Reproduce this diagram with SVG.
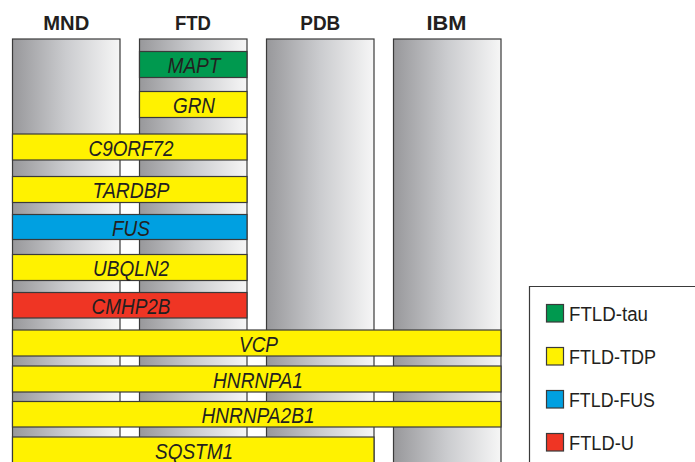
<svg xmlns="http://www.w3.org/2000/svg" width="695" height="462" viewBox="0 0 695 462">
<defs>
<linearGradient id="g" x1="0" y1="0" x2="1" y2="0">
<stop offset="0" stop-color="#98989b"/>
<stop offset="0.5" stop-color="#cbcccf"/>
<stop offset="1" stop-color="#f6f6f6"/>
</linearGradient>
</defs>
<style>
.col{fill:url(#g);stroke:#3a3a3a;stroke-width:1.2}
.bar{stroke:#3a3a3a;stroke-width:1.2}
.y{fill:#fff200}.gr{fill:#00994f}.bl{fill:#00a0e1}.rd{fill:#ef3524}
.hd{font-family:"Liberation Sans",Arial,sans-serif;font-weight:bold;font-size:21px;fill:#231f20;text-anchor:middle}
.bt{font-family:"Liberation Sans",Arial,sans-serif;font-style:italic;font-size:22px;fill:#231f20;text-anchor:middle}
.lg{font-family:"Liberation Sans",Arial,sans-serif;font-size:20px;fill:#231f20}
</style>
<rect width="695" height="462" fill="#ffffff"/>
<g id="columns">
<g id="col-MND"><rect class="col" x="12.5" y="39" width="107.5" height="430"/><text class="hd" x="66.3" y="30" textLength="46" lengthAdjust="spacingAndGlyphs">MND</text></g>
<g id="col-FTD"><rect class="col" x="139.5" y="39" width="107.5" height="430"/><text class="hd" x="193" y="30" textLength="36" lengthAdjust="spacingAndGlyphs">FTD</text></g>
<g id="col-PDB"><rect class="col" x="266.5" y="39" width="107.5" height="430"/><text class="hd" x="320.3" y="30" textLength="40" lengthAdjust="spacingAndGlyphs">PDB</text></g>
<g id="col-IBM"><rect class="col" x="393.5" y="39" width="107.5" height="430"/><text class="hd" x="446.5" y="30" textLength="40" lengthAdjust="spacingAndGlyphs">IBM</text></g>
</g>
<g id="bars">
<g id="MAPT"><rect class="bar gr" x="139.5" y="51.5" width="107.5" height="26"/><text class="bt" x="194" y="73" textLength="53" lengthAdjust="spacingAndGlyphs">MAPT</text></g>
<g id="GRN"><rect class="bar y" x="139.5" y="91.5" width="107.5" height="26"/><text class="bt" x="194" y="113" textLength="42" lengthAdjust="spacingAndGlyphs">GRN</text></g>
<g id="C9ORF72"><rect class="bar y" x="12.5" y="134" width="234.5" height="26"/><text class="bt" x="131" y="155.5" textLength="85" lengthAdjust="spacingAndGlyphs">C9ORF72</text></g>
<g id="TARDBP"><rect class="bar y" x="12.5" y="176.5" width="234.5" height="26"/><text class="bt" x="131" y="198" textLength="77" lengthAdjust="spacingAndGlyphs">TARDBP</text></g>
<g id="FUS"><rect class="bar bl" x="12.5" y="214.5" width="234.5" height="25"/><text class="bt" x="131" y="235.5" textLength="38" lengthAdjust="spacingAndGlyphs">FUS</text></g>
<g id="UBQLN2"><rect class="bar y" x="12.5" y="254.5" width="234.5" height="26"/><text class="bt" x="131" y="276" textLength="76" lengthAdjust="spacingAndGlyphs">UBQLN2</text></g>
<g id="CMHP2B"><rect class="bar rd" x="12.5" y="292.5" width="234.5" height="25.5"/><text class="bt" x="131" y="313.5" textLength="79" lengthAdjust="spacingAndGlyphs">CMHP2B</text></g>
<g id="VCP"><rect class="bar y" x="12.5" y="330" width="488.5" height="26"/><text class="bt" x="258.5" y="351.5" textLength="39" lengthAdjust="spacingAndGlyphs">VCP</text></g>
<g id="HNRNPA1"><rect class="bar y" x="12.5" y="366" width="488.5" height="26"/><text class="bt" x="258" y="387.5" textLength="90" lengthAdjust="spacingAndGlyphs">HNRNPA1</text></g>
<g id="HNRNPA2B1"><rect class="bar y" x="12.5" y="401.5" width="488.5" height="25.5"/><text class="bt" x="258" y="423" textLength="113" lengthAdjust="spacingAndGlyphs">HNRNPA2B1</text></g>
<g id="SQSTM1"><rect class="bar y" x="12.5" y="437" width="361.5" height="30"/><text class="bt" x="194" y="459" textLength="78" lengthAdjust="spacingAndGlyphs">SQSTM1</text></g>
</g>
<g id="legend">
<path d="M529.5 470 V286.5 H700" fill="none" stroke="#3a3a3a" stroke-width="1.2"/>
<rect class="bar gr" x="546.5" y="304.5" width="17" height="17.5"/><text class="lg" x="569" y="321" textLength="79" lengthAdjust="spacingAndGlyphs">FTLD-tau</text>
<rect class="bar y" x="546.5" y="347.5" width="17" height="17.5"/><text class="lg" x="569" y="364" textLength="87" lengthAdjust="spacingAndGlyphs">FTLD-TDP</text>
<rect class="bar bl" x="546.5" y="390.5" width="17" height="17.5"/><text class="lg" x="569" y="407" textLength="86" lengthAdjust="spacingAndGlyphs">FTLD-FUS</text>
<rect class="bar rd" x="546.5" y="433.5" width="17" height="17.5"/><text class="lg" x="569" y="450" textLength="65" lengthAdjust="spacingAndGlyphs">FTLD-U</text>
</g>
</svg>
